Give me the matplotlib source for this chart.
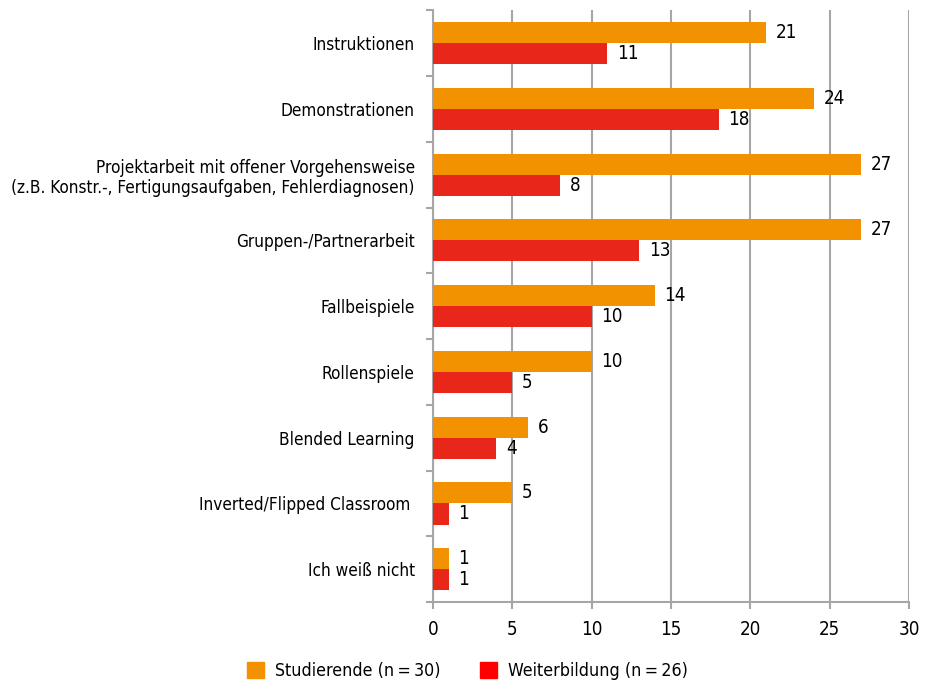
import matplotlib
matplotlib.use("Agg")
from matplotlib import pyplot as plt
from matplotlib import font_manager as fm
from matplotlib.patches import Patch
import numpy as np

# Pick a condensed font if one is installed
names = {f.name for f in fm.fontManager.ttflist}
cond_files = [f for f in fm.fontManager.ttflist
              if f.name == "DejaVu Sans" and "Condensed" in f.fname and f.weight in (400, "normal")]
if "Liberation Sans Narrow" in names:
    FONT = {"family": ["Liberation Sans Narrow", "DejaVu Sans"]}
    FS = 13
elif cond_files:
    FONT = {"family": ["DejaVu Sans"], "stretch": "condensed"}
    FS = 12.3
else:
    FONT = {"family": ["Roboto", "DejaVu Sans"]}
    FS = 11.5
plt.rcParams['font.family'] = FONT["family"]
if "stretch" in FONT:
    plt.rcParams['font.stretch'] = FONT["stretch"]

# Data
categories = [
    "Instruktionen",
    "Demonstrationen",
    "Projektarbeit mit offener Vorgehensweise\n(z.B. Konstr.-, Fertigungsaufgaben, Fehlerdiagnosen)",
    "Gruppen-/Partnerarbeit",
    "Fallbeispiele",
    "Rollenspiele",
    "Blended Learning",
    "Inverted/Flipped Classroom ",
    "Ich weiß nicht",
]
studierende = [21, 24, 27, 27, 14, 10, 6, 5, 1]
weiterbildung = [11, 18, 8, 13, 10, 5, 4, 1, 1]

ORANGE = "#f39200"
RED = "#e8261a"
GRID = "#a6a6a6"

fig = plt.figure(figsize=(9.29, 6.85), dpi=100)
ax = fig.add_axes([0.466, 0.121, 0.5125, 0.864])

y = np.arange(len(categories))
h = 0.32
ax.barh(y - h / 2, studierende, height=h, color=ORANGE, zorder=3)
ax.barh(y + h / 2, weiterbildung, height=h, color=RED, zorder=3)

# Value labels
for yi, v in zip(y, studierende):
    ax.text(v + 0.6, yi - h / 2, str(v), va="center", ha="left", fontsize=FS + 1.2)
for yi, v in zip(y, weiterbildung):
    ax.text(v + 0.6, yi + h / 2, str(v), va="center", ha="left", fontsize=FS + 1.2)

ax.set_xlim(0, 30)
ax.set_ylim(len(categories) - 0.5, -0.5)
ax.set_xticks(range(0, 31, 5))
ax.tick_params(axis="x", labelsize=FS + 1.2, length=5, color=GRID, width=1.5, pad=8)

ax.set_yticks(y)
ax.set_yticklabels(categories, fontsize=FS)
ax.set_yticks(np.arange(-0.5, len(categories), 1), minor=True)
ax.tick_params(axis="y", which="major", length=0, pad=13)
ax.tick_params(axis="y", which="minor", length=5, color=GRID, width=1.5)

ax.grid(axis="x", color=GRID, linewidth=1.5, zorder=0)
for s in ["top", "right"]:
    ax.spines[s].set_visible(False)
for s in ["left", "bottom"]:
    ax.spines[s].set_color(GRID)
    ax.spines[s].set_linewidth(1.5)

handles = [Patch(color=ORANGE, label="Studierende (n\u2009=\u200930)"),
           Patch(color="#ff0000", label="Weiterbildung (n\u2009=\u200926)")]
fig.legend(handles=handles, loc="center", bbox_to_anchor=(0.503, 0.02),
           ncol=2, frameon=False, fontsize=FS + 0.5, handlelength=1.0,
           handleheight=1.0, columnspacing=2.2, handletextpad=0.6)

fig.savefig("out.png", dpi=100)
